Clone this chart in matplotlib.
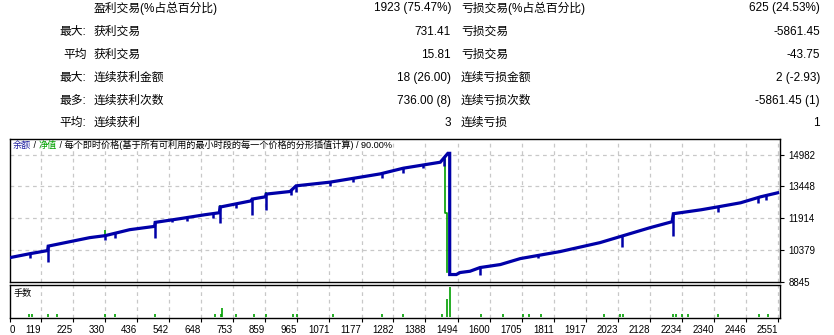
import numpy as np
import matplotlib
matplotlib.use("Agg")
import matplotlib.pyplot as plt

plt.rcParams['font.family'] = ['Liberation Sans', 'Noto Sans CJK SC', 'DejaVu Sans']

# ---------------- data ----------------
# summary table rows: (prefix, label1, value1, label2, value2)
row_prefix = ["", "最大:", "平均", "最大:", "最多:", "平均:"]
row_label1 = ["盈利交易(%占总百分比)", "获利交易", "获利交易", "连续获利金额", "连续获利次数", "连续获利"]
row_value1 = ["1923 (75.47%)", "731.41", "15.81", "18 (26.00)", "736.00 (8)", "3"]
row_label2 = ["亏损交易(%占总百分比)", "亏损交易", "亏损交易", "连续亏损金额", "连续亏损次数", "连续亏损"]
row_value2 = ["625 (24.53%)", "-5861.45", "-43.75", "2 (-2.93)", "-5861.45 (1)", "1"]

# balance curve (trade number, balance)
bal_idx = [17, 83, 141, 143, 280, 331, 412, 494, 496, 577, 660, 708, 710, 776, 814, 816,
           860, 862, 941, 961, 1073, 1239, 1315, 1437, 1462, 1468, 1468, 1490, 1502, 1535,
           1568, 1635, 1701, 1832, 1964, 2030, 2129, 2202, 2206, 2298, 2355, 2428, 2494, 2550]
bal_val = [10000, 10190, 10340, 10555, 10965, 11061, 11350, 11509, 11702, 11880, 12072, 12169,
           12443, 12636, 12747, 12829, 12939, 13069, 13195, 13469, 13647, 14047, 14322, 14611,
           15040, 15040, 9182, 9182, 9278, 9341, 9519, 9664, 9953, 10290, 10724, 11013, 11446,
           11735, 12121, 12313, 12458, 12650, 12939, 13132]

# downward drawdown spikes (trade number, lowest value)
spike_idx = [83, 143, 331, 364, 496, 552, 601, 687, 710, 763, 816, 862, 945, 961, 1073, 1149,
             1245, 1314, 1381, 1449, 1568, 1760, 2037, 2206, 2355, 2487, 2513]
spike_low = [10001, 9808, 10834, 10964, 10964, 11700, 11783, 11928, 11673, 12410, 12039, 12280,
             13036, 13147, 13469, 13662, 13869, 14110, 14337, 14432, 9182, 9980, 10531, 11061,
             12217, 12650, 12795]

# equity (green) excursions
eq_idx = [1454, 1454, 1459, 1459]
eq_val = [14900, 12169, 12169, 9327]
eq_tick_idx = [331, 710, 862, 961]
eq_tick_top = [11316, 12554, 13150, 13520]

# lot sizes (trade number, lots)
lot_idx = [80, 90, 143, 172, 331, 364, 496, 694, 714, 717, 763, 823, 862, 951, 964, 1083, 1245,
           1314, 1443, 1459, 1469, 1571, 1644, 1710, 1730, 1770, 1978, 2031, 2041, 2206, 2216,
           2233, 2256, 2355, 2490, 2517]
lot_val = [0.1, 0.1, 0.1, 0.1, 0.1, 0.1, 0.1, 0.1, 0.1, 0.4, 0.1, 0.1, 0.1, 0.1, 0.1, 0.1, 0.1,
           0.1, 0.1, 0.8, 1.3, 0.1, 0.1, 0.1, 0.1, 0.1, 0.1, 0.1, 0.1, 0.1, 0.1,
           0.1, 0.1, 0.1, 0.1, 0.1]

x_tick_labels = ["0", "119", "225", "330", "436", "542", "648", "753", "859", "965", "1071",
                 "1177", "1282", "1388", "1494", "1600", "1705", "1811", "1917", "2023", "2128",
                 "2234", "2340", "2446", "2551"]
y_ticks = [8845, 10379, 11914, 13448, 14982]

legend_parts = ["余额", " / ", "净值", " / 每个即时价格(基于所有可利用的最小时段的每一个价格的分形插值计算) / 90.00%"]
legend_colors = ["#2020A0", "black", "#00A000", "black"]

# ---------------- figure ----------------
W, H = 834, 335
fig = plt.figure(figsize=(W / 100, H / 100), dpi=100)
fig.patch.set_facecolor("white")

def fx(px):
    return px / W

def fy(py):
    return 1 - py / H

# table
row_y = [8, 32, 55, 78, 101, 123]
tfs = 8.5
for i in range(len(row_y)):
    y = fy(row_y[i])
    if row_prefix[i]:
        px = 63 if row_prefix[i] == "平均" else 59
        fig.text(fx(px), y, row_prefix[i], fontsize=tfs, ha="left", va="center")
    fig.text(fx(94), y, row_label1[i], fontsize=tfs, ha="left", va="center")
    fig.text(fx(451), y, row_value1[i], fontsize=tfs, ha="right", va="center")
    fig.text(fx(461), y, row_label2[i], fontsize=tfs, ha="left", va="center")
    fig.text(fx(820), y, row_value2[i], fontsize=tfs, ha="right", va="center")

# axes geometry
left_px, right_px = 10, 780
main_top, main_bot = 139, 281.5
sub_top, sub_bot = 284.5, 318
ax = fig.add_axes([fx(left_px), fy(main_bot), (right_px - left_px) / W, (main_bot - main_top) / H])
axs = fig.add_axes([fx(left_px), fy(sub_bot), (right_px - left_px) / W, (sub_bot - sub_top) / H])

xmin, xmax = 17, 2558
grid_kw = dict(color="#C8C8C8", linestyle=(0, (3, 3)), linewidth=0.9)
tick_pos = [xmin] + [int(s) for s in x_tick_labels[1:]]

for a in (ax, axs):
    a.set_xlim(xmin, xmax)
    for s in a.spines.values():
        s.set_linewidth(1.0)
        s.set_color("black")
    a.set_facecolor("white")
    for t in tick_pos[1:]:
        a.axvline(t, zorder=0, **grid_kw)

# main chart
ax.set_ylim(8845, 15733)
for t in y_ticks[1:]:
    ax.axhline(t, zorder=0, **grid_kw)

ax.plot(eq_idx, eq_val, color="#00A000", lw=1.2, zorder=2)
bal_top = np.interp(eq_tick_idx, bal_idx, bal_val)
ax.vlines(eq_tick_idx, bal_top, eq_tick_top, color="#00A000", lw=1.2, zorder=2)
ax.plot(bal_idx, bal_val, color="#0000A8", lw=2.3, zorder=3, solid_joinstyle="miter")
spike_top = np.interp(spike_idx, bal_idx, bal_val)
ax.vlines(spike_idx, spike_low, spike_top, color="#0000A8", lw=1.8, zorder=3)

ax.yaxis.tick_right()
ax.set_yticks(y_ticks)
ax.set_yticklabels([str(v) for v in y_ticks], fontsize=7)
ax.tick_params(axis="y", direction="out", length=3, width=0.8, pad=3)
ax.set_xticks([])

# legend text (multicolor)
prev = ax.text(0.004, 0.955, legend_parts[0], transform=ax.transAxes, fontsize=6.6,
               color=legend_colors[0], ha="left", va="center")
for part, col in zip(legend_parts[1:], legend_colors[1:]):
    prev = ax.annotate(part, xy=(1, 0.5), xycoords=prev, fontsize=6.6, color=col,
                       ha="left", va="center")

# sub chart (lots)
axs.set_ylim(-0.057, 1.43)
axs.vlines(lot_idx, 0, lot_val, color="#00A000", lw=1.2)
axs.set_yticks([])
axs.set_xticks(tick_pos)
axs.set_xticklabels(x_tick_labels, fontsize=7)
axs.tick_params(axis="x", direction="out", length=3, width=0.8, pad=2)
labels = axs.get_xticklabels()
for i, lb in enumerate(labels):
    lb.set_ha("left" if i == 0 else "right")
axs.text(0.004, 0.72, "手数", transform=axs.transAxes, fontsize=6.6, ha="left", va="center")

fig.savefig("out.png", dpi=100, facecolor="white")
